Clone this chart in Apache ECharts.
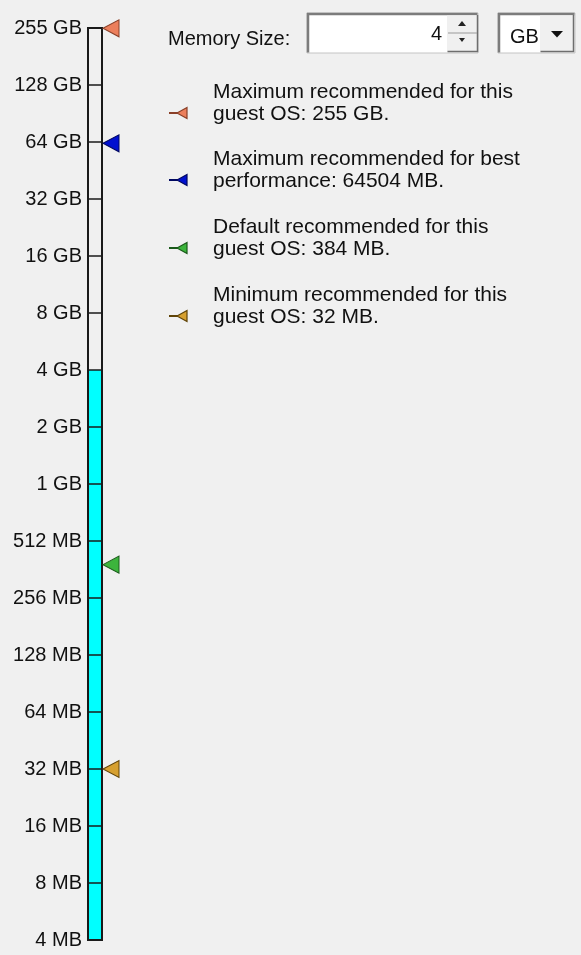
<!DOCTYPE html>
<html>
<head>
<meta charset="utf-8">
<script src="https://cdn.jsdelivr.net/npm/echarts@6/dist/echarts.min.js"></script>
<style>
html,body{margin:0;padding:0;background:#f0f0f0;}
#chart{width:581px;height:955px;}
</style>
</head>
<body>
<div id="chart"></div>
<script>
// ---- data ----
const tickLabels = ['4 MB','8 MB','16 MB','32 MB','64 MB','128 MB','256 MB','512 MB',
  '1 GB','2 GB','4 GB','8 GB','16 GB','32 GB','64 GB','128 GB','255 GB'];
const currentMB = 4096;          // 4 GB selected
const currentValue = '4';
const currentUnit = 'GB';
const markerNames = ['Maximum recommended for this guest OS','Maximum recommended for best performance',
  'Default recommended for this guest OS','Minimum recommended for this guest OS'];
const markerMB = [261120, 64504, 384, 32];
const markerColors = ['#ec7f5c','#0010d0','#3cb43c','#d6a030'];
const markerBorders = ['#8a4028','#000860','#1a5a1a','#604408'];
const legendTexts = [
  'Maximum recommended for this\nguest OS: 255 GB.',
  'Maximum recommended for best\nperformance: 64504 MB.',
  'Default recommended for this\nguest OS: 384 MB.',
  'Minimum recommended for this\nguest OS: 32 MB.'
];

const FONT = '"Liberation Sans", Arial, sans-serif';
const chart = echarts.init(document.getElementById('chart'));

const graphics = [];
// Memory size widget
graphics.push({type:'text', x:168, y:39, style:{text:'Memory Size:', font:'20px '+FONT, fill:'#111', verticalAlign:'middle'}});
// input box
graphics.push({type:'rect', shape:{x:307,y:13,width:171,height:40}, style:{fill:'#ffffff', stroke:'#c4c4c4', lineWidth:1}});
graphics.push({type:'polyline', shape:{points:[[308,52.5],[308,14],[477.5,14]]}, style:{stroke:'#7c7c7c', lineWidth:2.5, fill:null}});
graphics.push({type:'text', x:442, y:34, style:{text:currentValue, font:'20px '+FONT, fill:'#111', align:'right', verticalAlign:'middle'}});
// spinner
graphics.push({type:'rect', shape:{x:447,y:15.5,width:30,height:36}, style:{fill:'#f0f0f0', stroke:null}});
graphics.push({type:'polyline', shape:{points:[[447.5,51.5],[477.5,51.5],[477.5,15]]}, style:{stroke:'#6e6e6e', lineWidth:1.5, fill:null}});
graphics.push({type:'line', shape:{x1:448,y1:33,x2:477,y2:33}, style:{stroke:'#9a9a9a', lineWidth:1}});
graphics.push({type:'polygon', shape:{points:[[458,26],[466,26],[462,21]]}, style:{fill:'#222'}});
graphics.push({type:'polygon', shape:{points:[[459,38],[465,38],[462,42]]}, style:{fill:'#222'}});
// dropdown
graphics.push({type:'rect', shape:{x:498,y:13,width:77,height:40}, style:{fill:'#ffffff', stroke:'#c4c4c4', lineWidth:1}});
graphics.push({type:'polyline', shape:{points:[[499,52.5],[499,14],[574.5,14]]}, style:{stroke:'#7c7c7c', lineWidth:2.5, fill:null}});
graphics.push({type:'text', x:510, y:37, style:{text:currentUnit, font:'20px '+FONT, fill:'#111', verticalAlign:'middle'}});
graphics.push({type:'rect', shape:{x:540,y:15.5,width:33,height:36}, style:{fill:'#f0f0f0', stroke:null}});
graphics.push({type:'polyline', shape:{points:[[540.5,51.5],[573.5,51.5],[573.5,15]]}, style:{stroke:'#6e6e6e', lineWidth:1.5, fill:null}});
graphics.push({type:'polygon', shape:{points:[[551,31],[563,31],[557,37.5]]}, style:{fill:'#111'}});

// legend text blocks and icons
const groupTops = [81, 148, 216, 284];
legendTexts.forEach((t, i) => {
  graphics.push({type:'text', x:213, y:groupTops[i], style:{text:t, font:'21px '+FONT, fill:'#111', lineHeight:22, verticalAlign:'top'}});
  const cy = groupTops[i] + 32;
  graphics.push({type:'line', shape:{x1:169,y1:cy,x2:178,y2:cy}, style:{stroke:markerBorders[i], lineWidth:2}});
  graphics.push({type:'polygon', shape:{points:[[177,cy],[187,cy-5.5],[187,cy+5.5]]}, style:{fill:markerColors[i], stroke:markerBorders[i], lineWidth:1.2}});
});

const option = {
  backgroundColor:'#f0f0f0',
  animation:false,
  grid:{left:88, top:28, width:14, height:912, show:true, backgroundColor:'transparent',
        borderColor:'#1a1a1a', borderWidth:2, z:6},
  xAxis:{type:'category', data:['memory'], show:false},
  yAxis:{type:'value', min:2, max:18, interval:1, z:5,
    axisLine:{show:false}, axisTick:{show:false},
    splitLine:{show:true, lineStyle:{color:'#1a1a1a', width:1.5}},
    axisLabel:{margin:6, fontSize:20, fontFamily:FONT, color:'#111',
      formatter:(v)=> tickLabels[Math.round(v)-2] || ''}
  },
  series:[
    {type:'bar', barWidth:'100%', clip:true, z:2,
     itemStyle:{color:'#00ffff'},
     data:[Math.log2(currentMB)]},
    {type:'scatter', z:10, symbol:'triangle', symbolRotate:90, symbolSize:[17,16], symbolOffset:[16,0],
     data: markerMB.map((mb,i)=>({name:markerNames[i], value:[0, Math.log2(mb)],
        itemStyle:{color:markerColors[i], borderColor:markerBorders[i], borderWidth:1, opacity:1}}))}
  ],
  graphic: graphics
};
chart.setOption(option);
</script>
</body>
</html>
